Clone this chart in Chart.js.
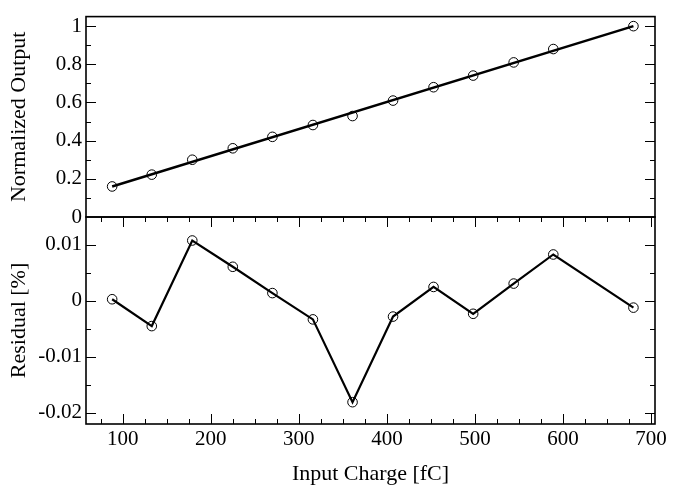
<!DOCTYPE html>
<html>
<head>
<meta charset="utf-8">
<script src="https://cdn.jsdelivr.net/npm/chart.js@4.4.1/dist/chart.umd.min.js"></script>
<style>
  html, body { margin: 0; padding: 0; background: #fff; }
  #wrap { position: relative; width: 688px; height: 488px; background: #fff; }
  #wrap canvas { position: absolute; left: 0; top: 0; }
</style>
</head>
<body>
<div id="wrap">
  <canvas id="top" width="688" height="488"></canvas>
  <canvas id="bot" width="688" height="488"></canvas>
</div>
<script>
// ---- data ----
const inputCharge = [88, 133, 179, 225, 270, 316, 361, 407, 453, 498, 544, 589, 680];
const normalizedOutput = [0.16, 0.222, 0.30, 0.36, 0.42, 0.482, 0.529, 0.61, 0.68, 0.741, 0.81, 0.88, 1.0];
const residualPct = [0.0003, -0.0045, 0.0108, 0.0061, 0.0014, -0.0033, -0.0181, -0.0028, 0.0025, -0.0023, 0.0031, 0.0083, -0.0012];
const fitX = [88, 680];
const fitY = [0.16, 1.0];
// tick labels
const xTicks = [100, 200, 300, 400, 500, 600, 700];
const topYTicks = [0, 0.2, 0.4, 0.6, 0.8, 1];
const resYTicks = [-0.02, -0.01, 0, 0.01];

const SERIF = '"Liberation Serif", "Times New Roman", serif';

function pts(xs, ys) { return xs.map((x, i) => ({ x: x, y: ys[i] })); }

// frame + inward major/minor ticks on all requested sides, via the chart's scales
const frameTicks = {
  id: 'frameTicks',
  afterDraw(chart, args, opts) {
    const { ctx, chartArea: a, scales } = chart;
    ctx.save();
    ctx.strokeStyle = '#000';
    ctx.lineWidth = 1;
    const MAJ = 10, MIN = 5;
    function vals(scale, majors, step) {
      const out = majors.map(v => ({ v: v, len: MAJ }));
      const start = Math.ceil(scale.min / step - 1e-9) * step;
      for (let v = start; v <= scale.max + 1e-12; v += step) {
        if (!majors.some(m => Math.abs(m - v) < step * 1e-3)) out.push({ v: v, len: MIN });
      }
      return out;
    }
    ctx.beginPath();
    if (opts.yMinor) {
      const s = scales.y;
      vals(s, opts.yMajors, opts.yMinor).forEach(t => {
        const p = Math.round(s.getPixelForValue(t.v)) + 0.5;
        if (p < a.top + 1 || p > a.bottom - 1) return;
        ctx.moveTo(a.left, p); ctx.lineTo(a.left + t.len, p);
        ctx.moveTo(a.right, p); ctx.lineTo(a.right - t.len, p);
      });
    }
    if (opts.xMinor) {
      const s = scales.x;
      vals(s, opts.xMajors, opts.xMinor).forEach(t => {
        const p = Math.round(s.getPixelForValue(t.v)) + 0.5;
        if (p < a.left + 1 || p > a.right - 1) return;
        ctx.moveTo(p, a.bottom); ctx.lineTo(p, a.bottom - t.len);
        ctx.moveTo(p, a.top); ctx.lineTo(p, a.top + t.len);
      });
    }
    ctx.stroke();
    ctx.lineWidth = 1.6;
    ctx.strokeRect(a.left, a.top, a.right - a.left, a.bottom - a.top);
    ctx.restore();
  }
};

const X_MIN = 58.3, X_MAX = 704.5;

function yScale(min, max, ticksArr, title, titlePad) {
  return {
    type: 'linear',
    position: 'left',
    min: min, max: max,
    afterBuildTicks: s => { s.ticks = ticksArr.map(v => ({ value: v })); },
    afterFit: s => { s.width = 86; },
    grid: { display: false, drawTicks: false },
    border: { display: false },
    ticks: {
      padding: 4,
      color: '#000',
      font: { family: SERIF, size: 21 },
      callback: v => String(v)
    },
    title: {
      display: true, text: title, color: '#000',
      font: { family: SERIF, size: 22 },
      padding: { top: titlePad, bottom: 0 }
    }
  };
}

// ---- top panel ----
new Chart(document.getElementById('top'), {
  type: 'scatter',
  data: {
    datasets: [
      {
        label: 'fit',
        data: pts(fitX, fitY),
        showLine: true,
        borderColor: '#000',
        borderWidth: 2.5,
        pointRadius: 0,
        order: 0
      },
      {
        label: 'data',
        data: pts(inputCharge, normalizedOutput),
        showLine: false,
        pointStyle: 'circle',
        pointRadius: 4.8,
        pointBorderWidth: 1,
        pointBorderColor: '#000',
        pointBackgroundColor: 'rgba(0,0,0,0)',
        order: 1
      }
    ]
  },
  options: {
    responsive: false,
    animation: false,
    devicePixelRatio: 1,
    layout: { padding: { left: 0, top: 8, right: 33, bottom: 271 } },
    plugins: {
      legend: { display: false }, tooltip: { enabled: false },
      frameTicks: { yMajors: topYTicks, yMinor: 0.1 }
    },
    scales: {
      x: { type: 'linear', min: X_MIN, max: X_MAX, display: false },
      y: yScale(0, 1.05, topYTicks, 'Normalized Output', 6)
    }
  },
  plugins: [frameTicks]
});

// ---- bottom panel ----
new Chart(document.getElementById('bot'), {
  type: 'scatter',
  data: {
    datasets: [
      {
        label: 'residual',
        data: pts(inputCharge, residualPct),
        showLine: true,
        borderColor: '#000',
        borderWidth: 2.2,
        pointStyle: 'circle',
        pointRadius: 4.8,
        pointBorderWidth: 1,
        pointBorderColor: '#000',
        pointBackgroundColor: 'rgba(0,0,0,0)'
      }
    ]
  },
  options: {
    responsive: false,
    animation: false,
    devicePixelRatio: 1,
    layout: { padding: { left: 0, top: 217, right: 33, bottom: 0 } },
    plugins: {
      legend: { display: false }, tooltip: { enabled: false },
      frameTicks: { yMajors: resYTicks, yMinor: 0.005, xMajors: xTicks, xMinor: 25 }
    },
    scales: {
      x: {
        type: 'linear', position: 'bottom',
        min: X_MIN, max: X_MAX,
        afterBuildTicks: s => { s.ticks = xTicks.map(v => ({ value: v })); },
        afterFit: s => { s.height = 64; },
        grid: { display: false, drawTicks: false },
        border: { display: false },
        ticks: {
          padding: 3, color: '#000', maxRotation: 0, autoSkip: false,
          font: { family: SERIF, size: 21 },
          callback: v => String(v)
        },
        title: {
          display: true, text: 'Input Charge [fC]', color: '#000',
          font: { family: SERIF, size: 22 },
          padding: { top: 0, bottom: 1 }
        }
      },
      y: yScale(-0.022, 0.015, resYTicks, 'Residual [%]', 6)
    }
  },
  plugins: [frameTicks]
});
</script>
</body>
</html>
